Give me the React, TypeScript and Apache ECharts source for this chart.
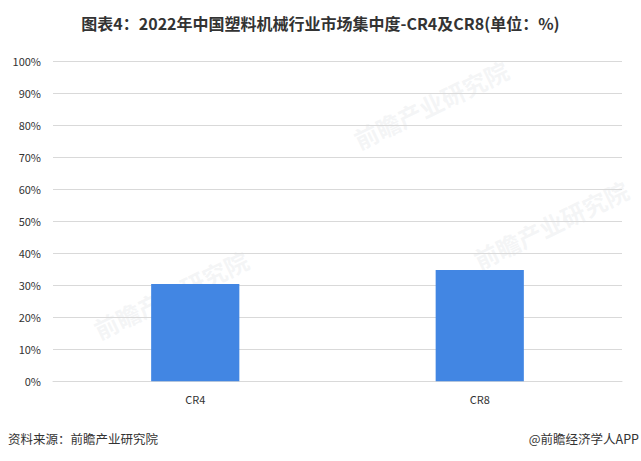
import React, { useEffect, useRef } from "react";
import * as echarts from "echarts";

const categories = ["CR4", "CR8"];
const values = [30.4, 34.8];
const yTicks = [0, 10, 20, 30, 40, 50, 60, 70, 80, 90, 100];

const titleText = "图表4：2022年中国塑料机械行业市场集中度-CR4及CR8(单位：%)";
const sourceText = "资料来源：前瞻产业研究院";
const brandText = "@前瞻经济学人APP";

export default function App() {
  const ref = useRef<HTMLDivElement>(null);
  useEffect(() => {
    if (!ref.current) return;
    const chart = echarts.init(ref.current, null, { renderer: "svg" });
    const font = '"Microsoft YaHei", "Noto Sans CJK SC", "Noto Sans", sans-serif';
    const wm = (x: number, y: number) => ({
      type: "text",
      x,
      y,
      rotation: Math.PI / 7,
      silent: true,
      z: -1,
      style: {
        text: "前瞻产业研究院",
        fill: "rgba(205,210,215,0.22)",
        font: `bold 24px ${font}`,
      },
    });
    chart.setOption({
      animation: false,
      backgroundColor: "#ffffff",
      textStyle: { fontFamily: font },
      title: {
        text: titleText,
        left: "center",
        top: 10,
        textStyle: { fontSize: 16, fontWeight: "bold", color: "#333333", fontFamily: font },
      },
      grid: { left: 53, right: 19, top: 61.3, bottom: 79.7, containLabel: false },
      xAxis: {
        type: "category",
        data: categories,
        axisLine: { lineStyle: { color: "#d9d9d9" } },
        axisTick: { show: false },
        axisLabel: { color: "#333333", fontSize: 11, margin: 12 },
      },
      yAxis: {
        type: "value",
        min: yTicks[0],
        max: yTicks[yTicks.length - 1],
        interval: 10,
        axisLine: { show: false },
        axisTick: { show: false },
        splitLine: { lineStyle: { color: "#d9d9d9" } },
        axisLabel: { color: "#333333", fontSize: 11, margin: 12, formatter: "{value}%" },
      },
      series: [
        {
          type: "bar",
          data: values,
          barWidth: "31%",
          itemStyle: { color: "#4286e3" },
        },
      ],
      graphic: [
        wm(90, 320),
        wm(350, 130),
        wm(470, 250),
        {
          type: "text",
          left: 8,
          top: 432,
          style: { text: sourceText, fill: "#333333", font: `12.5px ${font}` },
        },
        {
          type: "text",
          right: 2,
          top: 432,
          style: { text: brandText, fill: "#333333", font: `12.5px ${font}` },
        },
      ],
    });
    return () => chart.dispose();
  }, []);
  return (
    <div
      ref={ref}
      style={{ position: "fixed", left: 0, top: 0, width: 641, height: 461 }}
    />
  );
}
